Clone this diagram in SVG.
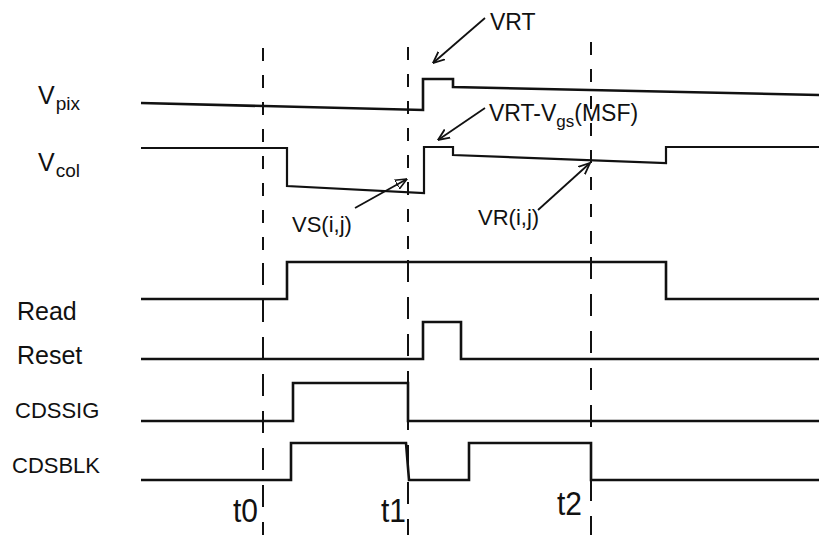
<svg xmlns="http://www.w3.org/2000/svg" width="819" height="535" viewBox="0 0 819 535">
  <style>
    .wave { fill: none; stroke: #111; stroke-width: 2.6; stroke-linejoin: miter; }
    .thin { fill: none; stroke: #111; stroke-width: 2.2; }
    .dashT { fill: none; stroke: #111; stroke-width: 2; stroke-dasharray: 13 14; }
    .dashB { fill: none; stroke: #111; stroke-width: 2; stroke-dasharray: 22 15; }
    .lbl { font-family: "Liberation Sans", Arial, sans-serif; fill: #111; }
    .arr { fill: none; stroke: #111; stroke-width: 1.8; }
  </style>
  <defs>
    <marker id="openV" viewBox="0 0 12 12" refX="11.5" refY="6" markerWidth="12" markerHeight="12" orient="auto" markerUnits="userSpaceOnUse">
      <path d="M0,1 L11.5,6 L0,11" fill="none" stroke="#111" stroke-width="1.8"/>
    </marker>
    <marker id="openTri" viewBox="0 0 12 12" refX="11.5" refY="6" markerWidth="12" markerHeight="12" orient="auto" markerUnits="userSpaceOnUse">
      <path d="M0,1 L11.5,6 L0,11 Z" fill="none" stroke="#111" stroke-width="1.6"/>
    </marker>
  </defs>
  <rect width="819" height="535" fill="#fff"/>

  <g id="time-markers">
    <path class="dashT" d="M263,48 V252 M408,47 V252 M591,42 V252"/>
    <path class="dashB" d="M263,263 V535 M408,260 V535 M591,257 V535"/>
  </g>

  <g id="vpix">
    <path class="wave" d="M141,103 L423,110 V79 H453 V87 L819,95"/>
    <text class="lbl" x="38" y="104" font-size="25">V<tspan font-size="19" dx="1" dy="6">pix</tspan></text>
  </g>
  <g id="vcol">
    <path class="thin" d="M141,148 H287 V186 L424,193 V147 H453 V155 L666,163 V147 H819"/>
    <text class="lbl" x="38" y="171" font-size="25">V<tspan font-size="19" dx="1" dy="6">col</tspan></text>
  </g>
  <g id="read">
    <path class="wave" d="M141,299 H287 V262 H666 V299 H819"/>
    <text class="lbl" x="17" y="320" font-size="25">Read</text>
  </g>
  <g id="reset">
    <path class="wave" d="M141,359 H423 V322 H461 V359 H819"/>
    <text class="lbl" x="17" y="364" font-size="25">Reset</text>
  </g>
  <g id="cdssig">
    <path class="wave" d="M141,421 H293 V383 H408 V421 H819"/>
    <text class="lbl" x="15" y="418" font-size="22">CDSSIG</text>
  </g>
  <g id="cdsblk">
    <path class="wave" d="M141,480 H291 V443 H406 L409,480 H469 V443 H591 V480 H819"/>
    <text class="lbl" x="12" y="473" font-size="22">CDSBLK</text>
  </g>

  <g id="time-labels">
    <text class="lbl" x="233" y="522" font-size="33" textLength="25" lengthAdjust="spacingAndGlyphs">t0</text>
    <text class="lbl" x="381" y="522" font-size="33" textLength="25" lengthAdjust="spacingAndGlyphs">t1</text>
    <text class="lbl" x="557" y="515" font-size="33" textLength="25" lengthAdjust="spacingAndGlyphs">t2</text>
  </g>

  <g id="annotations">
    <text class="lbl" x="490" y="30" font-size="23">VRT</text>
    <text class="lbl" x="489" y="121" font-size="23">VRT-V<tspan font-size="17" dy="6">gs</tspan><tspan dy="-6">(MSF)</tspan></text>
    <text class="lbl" x="292" y="232" font-size="22">VS(i,j)</text>
    <text class="lbl" x="478" y="225" font-size="22">VR(i,j)</text>
  </g>

  <g id="connectors">
    <line class="arr" x1="485" y1="18" x2="433" y2="63" marker-end="url(#openV)"/>
    <line class="arr" x1="485" y1="108" x2="438" y2="140" marker-end="url(#openV)"/>
    <line class="arr" x1="355" y1="208" x2="407" y2="179" marker-end="url(#openTri)"/>
    <line class="arr" x1="538" y1="210" x2="590" y2="163" marker-end="url(#openV)"/>
  </g>
</svg>
